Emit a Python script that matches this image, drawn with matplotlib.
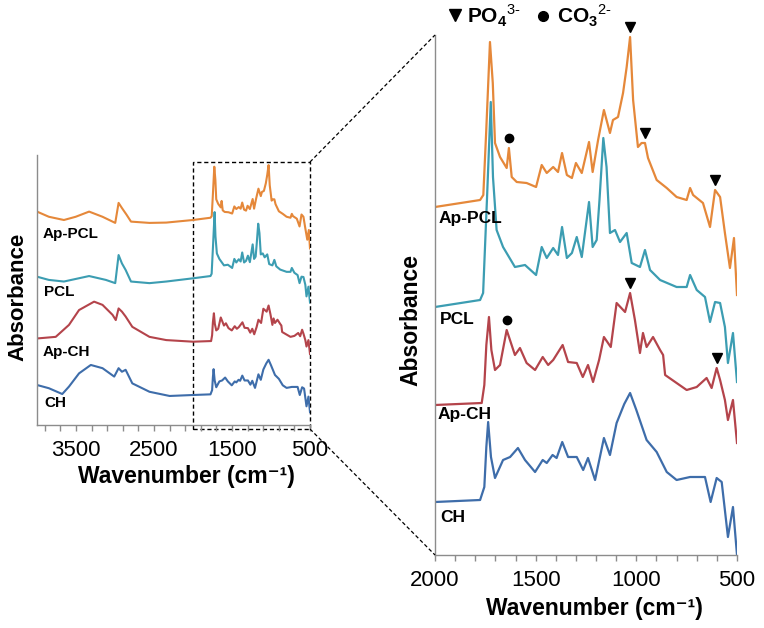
import numpy as np
import matplotlib
matplotlib.use("Agg")
import matplotlib.pyplot as plt
from matplotlib.lines import Line2D
from matplotlib.patches import Rectangle

plt.rcParams['font.family'] = ['Liberation Sans', 'DejaVu Sans']
plt.rcParams['mathtext.fontset'] = 'custom'
plt.rcParams['mathtext.rm'] = 'Liberation Sans'
plt.rcParams['mathtext.bf'] = 'Liberation Sans:bold'

# ---------------- data (relative absorbance, baseline at 2000 cm-1 = 0) ----------------
samples = ["Ap-PCL", "PCL", "Ap-CH", "CH"]
colors = ["#E5883A", "#3C9DB2", "#B4444B", "#3E6DAA"]

appcl_wn = [4000, 3848, 3655, 3504, 3332, 3160, 2997, 2954, 2911, 2851, 2795, 2558, 2343, 2000,
            1776, 1760, 1746, 1727, 1713, 1702, 1677, 1644, 1633, 1619, 1594, 1545, 1498,
            1470, 1445, 1413, 1389, 1369, 1345, 1320, 1300, 1271, 1235,
            1217, 1190, 1161, 1131, 1116, 1091, 1066, 1048, 1031, 1016, 992,
            974, 957, 942, 899, 849, 800, 750, 733, 718, 669,
            634, 609, 584, 560, 535, 515, 500]
appcl_abs = [0.26, 0.10, 0.00, 0.10, 0.26, 0.10, -0.09, 0.53, 0.37, 0.16, -0.05, -0.09, -0.08, 0.00,
             0.07, 0.12, 0.74, 1.65, 1.24, 0.64, 0.50, 0.39, 0.59, 0.30, 0.25, 0.24, 0.20,
             0.42, 0.34, 0.40, 0.35, 0.54, 0.32, 0.29, 0.44, 0.34, 0.65,
             0.35, 0.67, 0.97, 0.74, 0.87, 0.90, 1.14, 1.40, 1.70, 1.07, 0.60,
             0.64, 0.64, 0.49, 0.27, 0.19, 0.10, 0.07, 0.19, 0.12, 0.04,
             -0.20, 0.17, 0.10, -0.26, -0.61, -0.31, -0.88]

pcl_wn = [4000, 3848, 3655, 3332, 3117, 2997, 2954, 2911, 2864, 2795, 2558, 2343, 2000,
          1776, 1761, 1742, 1723, 1712, 1694, 1662, 1603, 1553, 1498, 1470, 1445, 1413,
          1389, 1369, 1345, 1320, 1296, 1271, 1235, 1217, 1197, 1183, 1164, 1148,
          1131, 1106, 1081, 1048, 1023, 982, 957, 932, 882, 800,
          750, 733, 700, 659, 634, 609, 584, 560, 545, 520, 500]
pcl_abs = [0.05, -0.05, -0.10, 0.07, -0.05, -0.15, 0.72, 0.46, 0.26, -0.10, -0.15, -0.10, 0.00,
           0.07, 0.14, 1.07, 2.05, 1.30, 0.77, 0.60, 0.40, 0.42, 0.32, 0.60, 0.49, 0.59,
           0.52, 0.80, 0.49, 0.54, 0.70, 0.50, 1.05, 0.60, 0.67, 1.07, 1.69, 1.40,
           0.74, 0.77, 0.65, 0.74, 0.44, 0.40, 0.57, 0.37, 0.27, 0.20,
           0.20, 0.32, 0.17, 0.10, -0.15, 0.05, 0.04, -0.20, -0.56, -0.26, -0.75]

apch_wn = [4000, 3760, 3590, 3461, 3268, 3160, 3031, 2990, 2954, 2911, 2864, 2778, 2558, 2343, 2000,
           1768, 1755, 1745, 1732, 1720, 1702, 1677, 1644, 1603, 1578, 1545, 1503, 1465,
           1438, 1413, 1366, 1339, 1296, 1266, 1240, 1215, 1185, 1161,
           1127, 1098, 1056, 1031, 1007, 982, 967, 949, 917, 882,
           867, 857, 800, 750, 700, 651, 626, 601, 584, 560,
           545, 520, 500]
apch_abs = [0.10, 0.15, 0.52, 0.98, 1.24, 1.14, 0.83, 0.67, 1.03, 0.93, 0.78, 0.46, 0.15, 0.05, 0.00,
            0.02, 0.20, 0.60, 0.88, 0.55, 0.35, 0.40, 0.75, 0.50, 0.57, 0.42, 0.35, 0.48,
            0.40, 0.45, 0.60, 0.43, 0.42, 0.28, 0.40, 0.23, 0.45, 0.68,
            0.58, 1.02, 0.93, 1.12, 0.85, 0.52, 0.72, 0.58, 0.68, 0.55,
            0.50, 0.30, 0.22, 0.15, 0.18, 0.27, 0.17, 0.37, 0.25, 0.05,
            -0.15, 0.05, -0.38]

ch_wn = [4000, 3848, 3676, 3590, 3461, 3310, 3160, 3010, 2954, 2911, 2864, 2778, 2558, 2300, 2000,
         1776, 1755, 1745, 1736, 1722, 1702, 1662, 1627, 1588, 1553, 1503, 1465, 1445,
         1416, 1396, 1368, 1339, 1296, 1264, 1240, 1205, 1161, 1131,
         1098, 1060, 1031, 1000, 949, 899, 849, 800, 733, 659, 631,
         601, 576, 545, 520, 500]
ch_abs = [0.31, 0.21, 0.03, 0.26, 0.67, 0.93, 0.83, 0.57, 0.83, 0.72, 0.78, 0.36, 0.10, -0.03, 0.00,
          0.02, 0.15, 0.55, 0.80, 0.45, 0.24, 0.42, 0.45, 0.54, 0.42, 0.30, 0.42, 0.39,
          0.47, 0.44, 0.60, 0.45, 0.45, 0.32, 0.44, 0.22, 0.64, 0.47,
          0.79, 0.98, 1.09, 0.92, 0.62, 0.50, 0.30, 0.22, 0.25, 0.25, 0.00,
          0.24, 0.20, -0.35, -0.05, -0.53]

spectra_wn = [appcl_wn, pcl_wn, apch_wn, ch_wn]
spectra_abs = [appcl_abs, pcl_abs, apch_abs, ch_abs]

# band markers: (sample index, wavenumber)
po4_marks = [(0, 1031), (0, 957), (0, 609), (2, 1031), (2, 601)]
co3_marks = [(0, 1633), (2, 1644)]

# x tick labels
left_major = [3500, 2500, 1500, 500]
right_major = [2000, 1500, 1000, 500]

# ---------------- layout helpers ----------------
W, H = 764, 628
def fx(px):
    return px / W
def fy(py):
    return 1 - py / H

fig = plt.figure(figsize=(W / 100, H / 100), dpi=100)

axL = fig.add_axes([fx(37), fy(425), (310 - 37) / W, (425 - 155) / H])
axR = fig.add_axes([fx(435), fy(555), (737 - 435) / W, (555 - 35) / H])

left_offsets = [205, 146.7, 83.3, 30]
left_scale = 32.3
right_offsets = [348, 248, 150, 53]
right_scale = 100

for i in range(4):
    wn = np.array(spectra_wn[i], dtype=float)
    ab = np.array(spectra_abs[i], dtype=float)
    axL.plot(wn, left_offsets[i] + left_scale * ab, color=colors[i], lw=1.5, clip_on=True)
    m = wn <= 2000
    axR.plot(wn[m], right_offsets[i] + right_scale * ab[m], color=colors[i], lw=1.6)

def curve_y(i, w):
    wn = np.array(spectra_wn[i], dtype=float)[::-1]
    ab = np.array(spectra_abs[i], dtype=float)[::-1]
    return right_offsets[i] + right_scale * np.interp(w, wn, ab)

for i, w in po4_marks:
    axR.plot([w], [curve_y(i, w) + 10], marker='v', color='black', ms=7, ls='none', clip_on=False)
for i, w in co3_marks:
    axR.plot([w], [curve_y(i, w) + 10], marker='o', color='black', ms=6, ls='none', clip_on=False)

spine_col = '#8c8c8c'
for ax, xmaj, minors, ylim in [
        (axL, left_major, np.arange(500, 4001, 200), (0, 270)),
        (axR, right_major, np.arange(500, 2001, 100), (0, 520))]:
    ax.set_xlim(4000 if ax is axL else 2000, 500)
    ax.set_ylim(*ylim)
    ax.set_xticks(xmaj)
    ax.set_xticklabels([str(v) for v in xmaj])
    ax.set_xticks(minors, minor=True)
    ax.set_yticks([])
    for s in ['top', 'right']:
        ax.spines[s].set_visible(False)
    for s in ['left', 'bottom']:
        ax.spines[s].set_color(spine_col)
        ax.spines[s].set_linewidth(1.0)
    ax.tick_params(axis='x', which='both', direction='out', color=spine_col,
                   length=4, width=1.0, labelsize=16, pad=7)

# dashed rectangle on left panel (2000-500 region)
rect = Rectangle((2000, -4), -1500, 267, fill=False, ls=(0, (3, 2)), lw=1.0,
                 edgecolor='black', clip_on=False)
axL.add_patch(rect)

# connector lines
fig.add_artist(Line2D([fx(310), fx(435)], [fy(162), fy(35)], transform=fig.transFigure,
                      color='black', lw=0.9, ls=(0, (3, 2))))
fig.add_artist(Line2D([fx(310), fx(435)], [fy(429), fy(555)], transform=fig.transFigure,
                      color='black', lw=0.9, ls=(0, (3, 2))))

# sample labels
left_label_pos = [(43, 234), (44, 292), (43, 352), (44, 403)]
right_label_pos = [(439, 218), (440, 320), (438, 415), (440, 518)]
for i, name in enumerate(samples):
    x, y = left_label_pos[i]
    fig.text(fx(x), fy(y), name, fontsize=11, fontweight='bold', ha='left', va='center')
    x, y = right_label_pos[i]
    fig.text(fx(x), fy(y), name, fontsize=12.5, fontweight='bold', ha='left', va='center')

# axis labels
xlab = 'Wavenumber (cm\u207b\u00b9)'
fig.text(fx(186), fy(477), xlab, fontsize=16.5, fontweight='bold', ha='center', va='center')
fig.text(fx(594), fy(608), xlab, fontsize=16.5, fontweight='bold', ha='center', va='center')
fig.text(fx(18), fy(297), 'Absorbance', fontsize=16, fontweight='bold', rotation=90,
         ha='center', va='center')
fig.text(fx(411), fy(320), 'Absorbance', fontsize=16.5, fontweight='bold', rotation=90,
         ha='center', va='center')

# legend for band markers
fig.add_artist(Line2D([fx(455)], [fy(15)], marker='v', color='black', ms=8, ls='none',
                      transform=fig.transFigure))
fig.text(fx(467), fy(16), r'$\mathbf{PO}_{\mathbf{4}}{}^{\mathrm{3\text{-}}}$', fontsize=15,
         ha='left', va='center')
fig.add_artist(Line2D([fx(543)], [fy(16)], marker='o', color='black', ms=7, ls='none',
                      transform=fig.transFigure))
fig.text(fx(557), fy(16), r'$\mathbf{CO}_{\mathbf{3}}{}^{\mathrm{2\text{-}}}$', fontsize=15,
         ha='left', va='center')

fig.savefig('out.png', dpi=100)
